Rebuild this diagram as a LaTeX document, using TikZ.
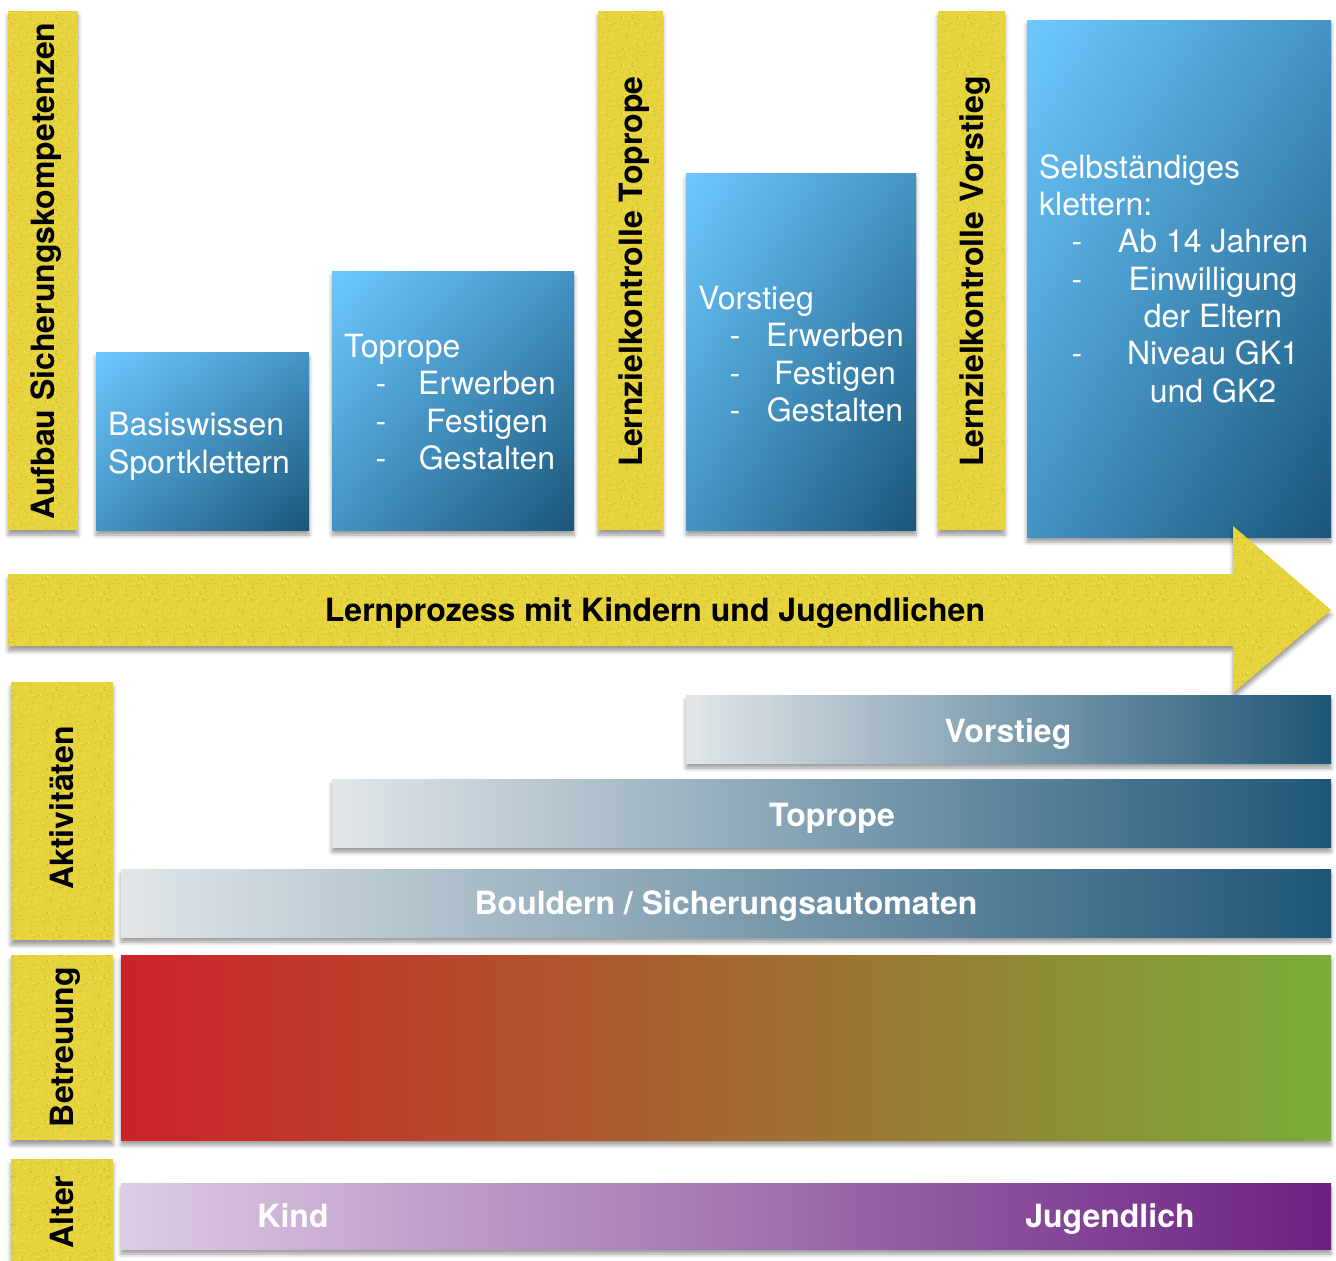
\documentclass[tikz,border=0pt]{standalone}
\usepackage{fontspec}
\setmainfont{TeX Gyre Heros}
\usetikzlibrary{shadows.blur,shadings,patterns}
\definecolor{bluelight}{HTML}{6DC8FF}
\definecolor{bluemid}{HTML}{4493C4}
\definecolor{bluedark}{HTML}{1B5679}
\definecolor{yel}{HTML}{E7D43C}
\definecolor{yeldark}{HTML}{CDBB2F}
\definecolor{yellight}{HTML}{F3E35E}
\definecolor{graylight}{HTML}{E1E6E9}
\definecolor{darkbl}{HTML}{1E5677}
\definecolor{redc}{HTML}{CD2229}
\definecolor{greenc}{HTML}{7BAD39}
\definecolor{purplelight}{HTML}{DDCBE4}
\definecolor{purplec}{HTML}{6B2180}
\pgfdeclarepatterninherentlycolored{yelnoise}{\pgfpointorigin}{\pgfpoint{48pt}{48pt}}{\pgfpoint{48pt}{48pt}}{%
  \pgfmathsetseed{7}%
  \pgfsetfillcolor{yeldark}%
  \foreach \i in {1,...,110}{%
    \pgfmathsetmacro{\px}{rnd*48}%
    \pgfmathsetmacro{\py}{rnd*48}%
    \pgfmathsetmacro{\pr}{0.35+rnd*0.55}%
    \pgfpathcircle{\pgfpoint{\px pt}{\py pt}}{\pr pt}%
    \pgfusepath{fill}%
  }%
  \pgfsetfillcolor{yellight}%
  \foreach \i in {1,...,90}{%
    \pgfmathsetmacro{\px}{rnd*48}%
    \pgfmathsetmacro{\py}{rnd*48}%
    \pgfmathsetmacro{\pr}{0.35+rnd*0.55}%
    \pgfpathcircle{\pgfpoint{\px pt}{\py pt}}{\pr pt}%
    \pgfusepath{fill}%
  }%
}
\tikzset{
  bshadow/.style={blur shadow={shadow xshift=0pt, shadow yshift=-5pt, shadow blur radius=4pt, shadow opacity=40}},
  boxbase/.style={rectangle, inner sep=0pt, outer sep=0pt, anchor=north west, bshadow},
  bluebox/.style={boxbase, upper left=bluelight, upper right=bluemid, lower left=bluemid, lower right=bluedark},
  yfill/.style={fill=yel, postaction={pattern=yelnoise}},
  ybar/.style={boxbase, yfill},
  actbar/.style={boxbase, left color=graylight, right color=darkbl},
  ytext/.style={font=\fontsize{32}{36}\selectfont\bfseries, text=black, rotate=90, inner sep=0pt, anchor=base},
  wtext/.style={font=\fontsize{32}{38}\selectfont, text=white, inner sep=0pt},
  wbold/.style={font=\fontsize{32}{38}\selectfont\bfseries, text=white, inner sep=0pt, anchor=base},
}
\begin{document}
\begin{tikzpicture}[x=1pt, y=-1pt]
\useasboundingbox (0,0) rectangle (1336,1261);

% yellow vertical bars (top)
\node[ybar, minimum width=70, minimum height=519] (y1) at (8,11) {};
\node[ybar, minimum width=65, minimum height=519] (y2) at (598,11) {};
\node[ybar, minimum width=67, minimum height=519] (y3) at (938,11) {};
\node[ytext] (t1) at (54.5,271) {Aufbau Sicherungskompetenzen};
\node[ytext] (t2) at (642,271.5) {Lernzielkontrolle Toprope};
\node[ytext] (t3) at (983,271.5) {Lernzielkontrolle Vorstieg};

% blue boxes
\node[bluebox, minimum width=213, minimum height=178] (basis) at (96,352) {};
\node[bluebox, minimum width=242, minimum height=259] (topr) at (332,271) {};
\node[bluebox, minimum width=230, minimum height=357] (vors) at (686,173) {};
\node[bluebox, minimum width=304, minimum height=517] (selb) at (1027,20) {};

% Basiswissen
\node[wtext, anchor=base west] (b1) at (108,435) {Basiswissen};
\node[wtext, anchor=base west] (b2) at (108,473) {Sportklettern};

% Toprope
\node[wtext, anchor=base west] (tp0) at (344,357) {Toprope};
\node[wtext, anchor=base] (tpd1) at (381,394) {-};
\node[wtext, anchor=base] (tpd2) at (381,432) {-};
\node[wtext, anchor=base] (tpd3) at (381,469) {-};
\node[wtext, anchor=base] (tp1) at (487,394) {Erwerben};
\node[wtext, anchor=base] (tp2) at (487,432) {Festigen};
\node[wtext, anchor=base] (tp3) at (487,469) {Gestalten};

% Vorstieg
\node[wtext, anchor=base west] (vs0) at (698,309) {Vorstieg};
\node[wtext, anchor=base] (vsd1) at (735,346) {-};
\node[wtext, anchor=base] (vsd2) at (735,384) {-};
\node[wtext, anchor=base] (vsd3) at (735,421) {-};
\node[wtext, anchor=base] (vs1) at (835,346) {Erwerben};
\node[wtext, anchor=base] (vs2) at (835,384) {Festigen};
\node[wtext, anchor=base] (vs3) at (835,421) {Gestalten};

% Selbstaendiges klettern
\node[wtext, anchor=base west] (sk0) at (1039,178) {Selbständiges};
\node[wtext, anchor=base west] (sk1) at (1039,215) {klettern:};
\node[wtext, anchor=base] (skd1) at (1077,252) {-};
\node[wtext, anchor=base] (skd2) at (1077,290) {-};
\node[wtext, anchor=base] (skd3) at (1077,364) {-};
\node[wtext, anchor=base] (sk2) at (1213,252) {Ab 14 Jahren};
\node[wtext, anchor=base] (sk3) at (1213,290) {Einwilligung};
\node[wtext, anchor=base] (sk4) at (1213,327) {der Eltern};
\node[wtext, anchor=base] (sk5) at (1213,364) {Niveau GK1};
\node[wtext, anchor=base] (sk6) at (1213,402) {und GK2};

% big arrow
\path[yfill, bshadow] (8,574) -- (1233,574) -- (1233,526) -- (1331,610) -- (1233,693) -- (1233,646) -- (8,646) -- cycle;
\node[font=\fontsize{32}{38}\selectfont\bfseries, text=black, inner sep=0pt, anchor=base] (lp) at (655,621) {Lernprozess mit Kindern und Jugendlichen};

% left yellow labels (bottom)
\node[ybar, minimum width=102, minimum height=258] (ya) at (11,682) {};
\node[ybar, minimum width=102, minimum height=185] (yb) at (11,955) {};
\node[ybar, minimum width=102, minimum height=120] (yc) at (11,1159) {};
\node[ytext] (ta) at (73.5,808) {Aktivitäten};
\node[ytext] (tb) at (73.5,1047) {Betreuung};
\node[ytext] (tc) at (73.5,1212) {Alter};

% activity bars
\node[actbar, minimum width=645, minimum height=68] (av) at (686,695) {};
\node[actbar, minimum width=999, minimum height=68] (at) at (332,779) {};
\node[actbar, minimum width=1210, minimum height=68] (ab) at (121,869) {};
\node[wbold] (avt) at (1008,742) {Vorstieg};
\node[wbold] (att) at (832,826) {Toprope};
\node[wbold] (abt) at (726,914) {Bouldern / Sicherungsautomaten};

% Betreuung
\node[boxbase, minimum width=1210, minimum height=185, left color=redc, right color=greenc] (betr) at (121,955) {};

% Alter
\node[boxbase, minimum width=1210, minimum height=66, left color=purplelight, right color=purplec] (alt) at (121,1183) {};
\node[wbold] (kind) at (293,1227) {Kind};
\node[wbold] (jug) at (1110,1227) {Jugendlich};
\end{tikzpicture}
\end{document}
